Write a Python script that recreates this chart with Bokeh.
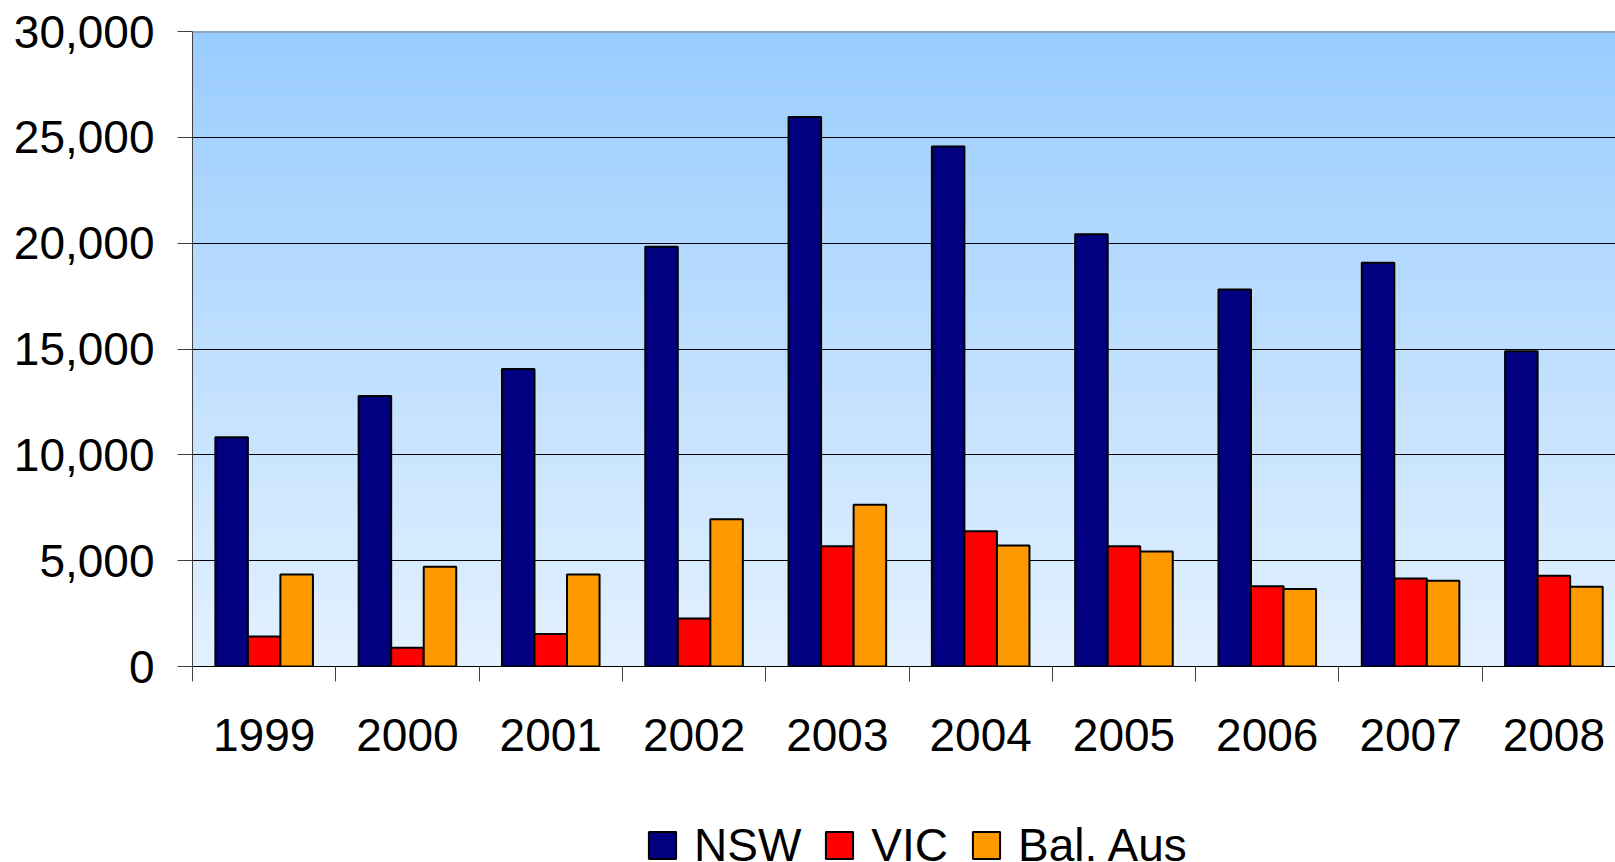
import numpy as np
from bokeh.plotting import figure
from bokeh.layouts import column
from bokeh.models import (ColumnDataSource, Range1d, FixedTicker, NumeralTickFormatter,
                          Legend, LegendItem, Span)
from bokeh.transform import dodge
from bokeh.embed import file_html
from bokeh.resources import INLINE

# Annual figures by region
years = ["1999", "2000", "2001", "2002", "2003", "2004", "2005", "2006", "2007", "2008"]
nsw = [10830, 12780, 14060, 19830, 25960, 24570, 20420, 17810, 19070, 14890]
vic = [1420, 890, 1530, 2270, 5680, 6390, 5680, 3790, 4160, 4290]
bal_aus = [4350, 4710, 4350, 6960, 7640, 5720, 5430, 3660, 4050, 3770]
series_names = ["NSW", "VIC", "Bal. Aus"]
series_cols = ["nsw", "vic", "bal"]
series_colors = ["#000080", "#FF0000", "#FF9900"]

y_ticks = [0, 5000, 10000, 15000, 20000, 25000, 30000]

FONT = "Liberation Sans"
FONT_SIZE = "46px"
AXIS_GREY = "#404040"
CHART_H = 770
LEGEND_H = 92

x_pos = [i + 0.5 for i in range(len(years))]
source = ColumnDataSource(dict(x=x_pos, year=years, nsw=nsw, vic=vic, bal=bal_aus))

p = figure(width=1615, height=CHART_H,
           x_range=Range1d(0, 9.93), y_range=Range1d(0, 30000),
           output_backend="svg", toolbar_location=None,
           min_border_left=192, min_border_right=0,
           min_border_top=31, min_border_bottom=CHART_H - 666,
           outline_line_color=None, border_fill_color="white")

# vertical gradient behind the plot area: light blue at the top fading downwards
top_rgb = np.array([153, 204, 255])
bottom_rgb = np.array([227, 241, 255])
n_bands = 120
y0, y1 = p.y_range.start, p.y_range.end
edges = np.linspace(y0, y1, n_bands + 1)[:-1]
band_colors = []
for e in edges:
    t = (e - y0) / (y1 - y0)
    c = bottom_rgb + (top_rgb - bottom_rgb) * t
    band_colors.append("#%02x%02x%02x" % tuple(int(round(v)) for v in c))
p.quad(left=p.x_range.start, right=p.x_range.end,
       bottom=edges, top=y1, fill_color=band_colors, line_color=None, level="image")

# grid lines and frame top
p.xgrid.visible = False
p.ygrid.ticker = FixedTicker(ticks=y_ticks[1:-1])
p.ygrid.grid_line_color = "black"
p.ygrid.grid_line_width = 1
p.add_layout(Span(location=y_ticks[-1], dimension="width",
                  line_color="#808080", line_width=2))

# grouped bars
bar_w = 0.227
offsets = [-bar_w, 0.0, bar_w]
for col, color, off in zip(series_cols, series_colors, offsets):
    p.vbar(x=dodge("x", off, range=p.x_range), top=col, source=source, width=bar_w,
           fill_color=color, line_color="black", line_width=2)

# y axis
yax = p.yaxis[0]
yax.ticker = FixedTicker(ticks=y_ticks)
yax.formatter = NumeralTickFormatter(format="0,0")
yax.major_tick_out = 15
yax.major_tick_in = 0
yax.minor_tick_line_color = None
yax.axis_line_color = AXIS_GREY
yax.major_tick_line_color = AXIS_GREY
yax.major_label_text_font = FONT
yax.major_label_text_font_size = FONT_SIZE
yax.major_label_text_color = "black"
yax.major_label_standoff = 23

# x axis: labels at category centres, tick marks at category boundaries
xax = p.xaxis[0]
xax.ticker = FixedTicker(ticks=x_pos, minor_ticks=list(range(len(years) + 1)))
xax.major_label_overrides = {x: y for x, y in zip(x_pos, years)}
xax.major_tick_out = 0
xax.major_tick_in = 0
xax.minor_tick_out = 15
xax.minor_tick_in = 0
xax.minor_tick_line_color = AXIS_GREY
xax.axis_line_color = "black"
xax.major_label_text_font = FONT
xax.major_label_text_font_size = FONT_SIZE
xax.major_label_text_color = "black"
xax.major_label_standoff = 37

# legend strip underneath the chart: its renderers share the bar styles but are
# hidden, so only the legend swatches appear
lg = figure(width=1615, height=LEGEND_H, x_range=Range1d(100, 101), y_range=Range1d(0, 30000),
            output_backend="svg", toolbar_location=None, min_border=0,
            x_axis_location=None, y_axis_location=None, outline_line_color=None)
lg.grid.visible = False
items = []
for name, col, color in zip(series_names, series_cols, series_colors):
    r = lg.vbar(x="x", top=col, source=source, width=bar_w,
                fill_color=color, line_color="black", line_width=2)
    r.visible = False
    items.append(LegendItem(label=name, renderers=[r]))
legend = Legend(items=items, orientation="horizontal", location=(453, -10),
                glyph_width=34, glyph_height=34, label_standoff=15, spacing=21,
                padding=0, margin=0, border_line_color=None, background_fill_alpha=0,
                inactive_fill_alpha=0,
                label_text_font=FONT, label_text_font_size=FONT_SIZE,
                label_text_color="black")
lg.add_layout(legend)

layout = column(p, lg, spacing=0)
open("out.html", "w").write(file_html(layout, INLINE))
